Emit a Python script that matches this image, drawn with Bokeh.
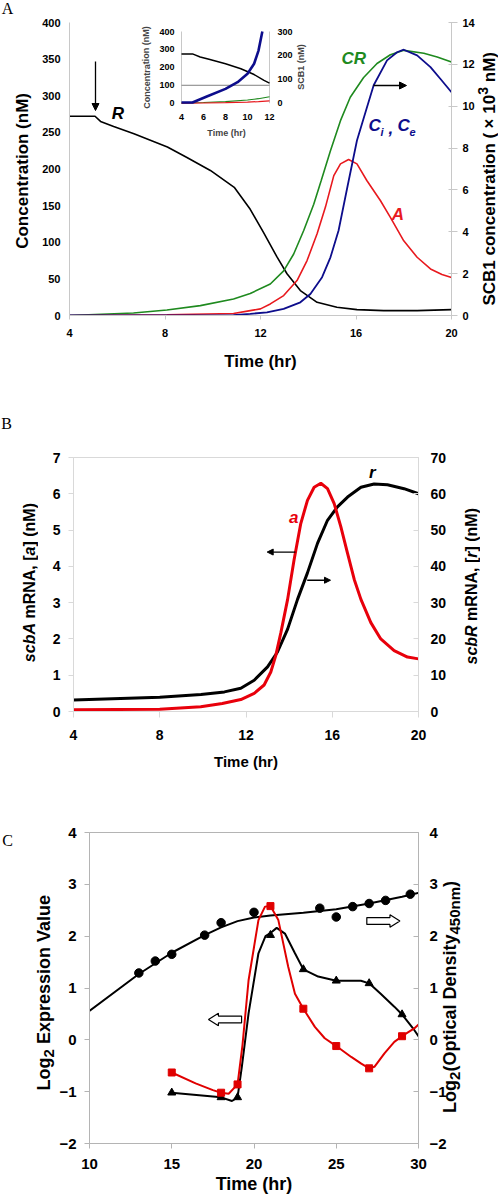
from bokeh.plotting import figure
from bokeh.models import (Range1d, LinearAxis, Label, Arrow, NormalHead,
                          FixedTicker, PolyAnnotation, Div)
from bokeh.layouts import column, row
from bokeh.embed import file_html
from bokeh.resources import INLINE
from bokeh.core.properties import value

FONT = "Liberation Sans"
SERIF = "Liberation Serif"
W = 498

# ---------------- Panel A data ----------------
A_x_ticks = [4, 8, 12, 16, 20]
A_left_ticks = [0, 50, 100, 150, 200, 250, 300, 350, 400]
A_right_ticks = [0, 2, 4, 6, 8, 10, 12, 14]

R_time = [4, 5.07, 5.3, 5.85, 6.7, 8.1, 8.9, 9.9, 10.9, 11.57, 12.13, 12.69,
          13.11, 13.67, 14.37, 15.2, 16.04, 17.16, 18.56, 20]
R_conc = [272, 272, 265, 258, 248, 230, 216, 198, 175, 145, 113, 80,
          57, 34, 18, 11.2, 8, 6.7, 6.7, 8]

CR_time = [4, 6.68, 8.08, 9.48, 10.87, 11.57, 12.41, 12.97, 13.39, 13.81, 14.23,
           14.54, 14.93, 15.35, 15.76, 16.32, 16.88, 17.44, 18.0, 18.84, 19.4, 20]
CR_conc = [0, 3.5, 7.6, 13.5, 22.6, 30, 43, 61, 84, 116, 152,
           184, 225, 266, 298, 325, 344, 356, 362, 358, 353, 346]

Afree_time = [4, 8.08, 10.87, 11.57, 12.0, 12.41, 12.97, 13.53, 13.95, 14.37, 14.72,
              15.07, 15.35, 15.69, 16.04, 16.46, 17.02, 17.44, 18.0, 18.56, 19.12,
              19.6, 20]
Afree_conc = [0, 1, 2.8, 6.7, 9, 15.8, 27.2, 47.7, 75, 111.5, 148,
              191, 207, 213, 207, 184, 157, 134, 102, 79.5, 63.6,
              56, 52]

Ci_time = [4, 10.87, 11.57, 12.27, 12.97, 13.67, 14.09, 14.58, 14.93, 15.27, 15.65,
           16.04, 16.46, 16.74, 17.3, 17.72, 18.0, 18.56, 19.12, 19.54, 20]
Ci_scb1 = [0, 0.02, 0.08, 0.15, 0.32, 0.63, 1.03, 1.83, 2.78, 4.06, 6.2,
           8.36, 9.95, 11.0, 12.19, 12.58, 12.7, 12.43, 11.87, 11.3, 10.67]

# inset of panel A
ins_x_ticks = [4, 6, 8, 10, 12]
ins_left_ticks = [0, 100, 200, 300, 400]
ins_right_ticks = [0, 100, 200, 300]
ins_ref_level = 100
ins_R_time = [4, 5.0, 5.7, 6.5, 8, 9.4, 10.6, 11.5, 12]
ins_R_conc = [275, 275, 258, 245, 220, 192, 160, 127, 112]
ins_C_time = [4, 5.0, 6.3, 8, 9.1, 10.0, 10.6, 11.0, 11.35]
ins_C_scb1 = [3, 3, 28, 60, 88, 123, 165, 220, 300]
ins_CR_time = [4, 6, 8, 10, 11, 12]
ins_CR_conc = [0, 4, 9, 18, 25, 36]
ins_A_time = [4, 6, 8, 10, 11, 12]
ins_A_conc = [0, 1, 3, 6, 9, 13]

# ---------------- Panel B data ----------------
B_x_ticks = [4, 8, 12, 16, 20]
B_left_ticks = [0, 1, 2, 3, 4, 5, 6, 7]
B_right_ticks = [0, 10, 20, 30, 40, 50, 60, 70]
a_time = [4, 8, 9.9, 10.9, 11.76, 12.38, 12.84, 13.15, 13.38, 13.62, 13.93, 14.23,
          14.54, 14.85, 15.16, 15.47, 15.78, 16.09, 16.4, 16.71, 17.02, 17.33,
          17.79, 18.25, 18.87, 19.49, 20]
a_mrna = [0.05, 0.06, 0.13, 0.22, 0.33, 0.5, 0.73, 1.09, 1.54, 2.18, 3.09, 4.18,
          5.18, 5.82, 6.18, 6.29, 6.14, 5.73, 5.09, 4.36, 3.64, 3.09,
          2.45, 2.0, 1.68, 1.5, 1.45]
r_time = [4, 8, 9.91, 11.0, 11.76, 12.38, 13.0, 13.46, 13.93, 14.39, 14.85, 15.32,
          15.78, 16.24, 16.71, 17.33, 17.94, 18.56, 19.33, 20]
r_mrna = [3.2, 3.9, 4.7, 5.4, 6.4, 8.6, 12.3, 16.4, 22.7, 30.9, 38.2, 46.4,
          52.7, 56.4, 59.1, 61.8, 62.7, 62.5, 61.4, 60]

# ---------------- Panel C data ----------------
C_x_ticks = [10, 15, 20, 25, 30]
C_y_ticks = [-2, -1, 0, 1, 2, 3, 4]
od_time = [13, 14, 15, 17, 18, 20, 24, 25, 26, 27, 28, 29.5]
od_log2 = [1.29, 1.52, 1.65, 2.02, 2.26, 2.46, 2.54, 2.37, 2.57, 2.63, 2.69, 2.81]
od_fit_time = [9.8, 13, 15, 17, 18, 19, 20, 21, 23, 25, 27, 29, 30.3]
od_fit_log2 = [0.51, 1.27, 1.68, 2.02, 2.17, 2.29, 2.36, 2.40, 2.45, 2.52, 2.63, 2.76, 2.86]

sq_time = [15, 18, 19, 21, 23, 25, 27, 29]
sq_expr = [-0.63, -1.02, -0.86, 2.58, 0.60, -0.12, -0.55, 0.07]
sq_curve_time = [15, 16.45, 17.5, 18, 18.46, 19, 19.3, 19.67, 20.27, 20.67, 21, 21.48,
                 22.08, 22.49, 23, 23.7, 24.3, 25, 25.91, 26.52, 27, 27.32, 27.93,
                 28.53, 29, 29.74, 30.3]
sq_curve_expr = [-0.63, -0.84, -0.97, -1.02, -1.04, -0.86, -0.1, 1.15, 2.31, 2.57, 2.58,
                 2.31, 1.41, 0.89, 0.60, 0.25, 0.03, -0.12, -0.33, -0.46, -0.55, -0.52,
                 -0.26, -0.04, 0.07, 0.22, 0.38]

tri_time = [15, 18, 19, 21, 23, 25, 27, 29]
tri_expr = [-1.02, -1.11, -1.11, 2.02, 1.36, 1.14, 1.09, 0.49]
tri_curve_time = [15, 18, 18.66, 19, 19.26, 19.67, 20.27, 20.7, 21, 21.38, 21.88, 22.49,
                  23, 23.9, 25, 26.5, 27, 27.7, 28.53, 29, 29.74, 30.24]
tri_curve_expr = [-1.02, -1.11, -1.18, -1.11, -0.52, 0.51, 1.67, 2.0, 2.06, 2.16, 2.05,
                  1.67, 1.36, 1.22, 1.14, 1.14, 1.09, 0.89, 0.64, 0.49, 0.19, -0.04]

# ---------------- colours ----------------
GREEN = "#1f8a1f"
NAVY = "#0d0d8c"
RED_A = "#e8191e"
RED_B = "#e8000b"
RED_C = "#e00000"
AXIS_GREY = "#c8c8c8"


def mapper(fl, fr, ft, fb, x0, x1, y0, y1):
    """page pixel -> data coordinate for a panel (annotation placement)"""
    def dx(px):
        return x0 + (px - fl) / (fr - fl) * (x1 - x0)

    def dy(py):
        return y0 + (fb - py) / (fb - ft) * (y1 - y0)
    return dx, dy


def style_axis(ax, ticks, tick_size, title_size, line_color, tin, tout,
               lstand, tstand):
    ax.ticker = FixedTicker(ticks=ticks)
    ax.axis_line_color = line_color
    ax.major_tick_line_color = line_color
    ax.major_tick_in = tin
    ax.major_tick_out = tout
    ax.minor_tick_line_color = None
    ax.major_label_text_font = FONT
    ax.major_label_text_font_style = "bold"
    ax.major_label_text_font_size = f"{tick_size}px"
    ax.major_label_text_color = "black"
    ax.major_label_standoff = lstand
    ax.axis_label_text_font = FONT
    ax.axis_label_text_font_style = "bold"
    ax.axis_label_text_font_size = f"{title_size}px"
    ax.axis_label_text_color = "black"
    ax.axis_label_standoff = tstand


def mk_label(p, x, y, text, size, color="black", style="bold italic",
             font=FONT, align="center"):
    p.add_layout(Label(x=x, y=y, text=text, text_font=font,
                       text_font_size=f"{size}px", text_font_style=style,
                       text_color=color, text_align=align,
                       text_baseline="middle"))


def side_div(width, height, letter=None, letter_pos=None, title=None,
             title_pos=None, title_size=17):
    """A narrow column beside a figure holding the panel letter and a
    vertical (bottom-to-top) axis title."""
    parts = [f'<div style="position:relative;width:{width}px;height:{height}px;">']
    if letter is not None:
        lx, ly = letter_pos
        parts.append(
            f'<div style="position:absolute;left:{lx}px;top:{ly}px;'
            f'transform:translate(-50%,-50%);font-family:\'{SERIF}\';'
            f'font-size:16px;line-height:1;white-space:nowrap;color:black">{letter}</div>')
    if title is not None:
        cx, cy = title_pos
        k = min(cy, height - cy)
        lh = 20
        parts.append(
            f'<div style="position:absolute;left:{cx - lh / 2}px;top:{cy - k}px;'
            f'width:{lh}px;height:{2 * k}px;display:flex;align-items:center;'
            f'justify-content:center;">'
            f'<div style="writing-mode:vertical-rl;transform:rotate(180deg);'
            f'white-space:nowrap;font-family:\'{FONT}\';font-weight:bold;'
            f'font-size:{title_size}px;line-height:{lh}px;color:black">{title}</div></div>')
    parts.append('</div>')
    return Div(text="".join(parts), width=width, height=height, margin=0,
               styles={"overflow": "visible"})


# ======================= PANEL A =======================
HA = 392
A_LW, A_RW = 38, 20
A_fl, A_fr, A_ft, A_fb = 69, 451, 22, 315          # page pixels of the frame
pA = figure(width=W - A_LW - A_RW, height=HA, x_range=Range1d(4, 20),
            y_range=Range1d(0, 400), output_backend="svg", toolbar_location=None,
            min_border_left=A_fl - A_LW, min_border_right=W - A_RW - A_fr,
            min_border_top=A_ft, min_border_bottom=HA - A_fb)
pA.outline_line_color = None
pA.xgrid.visible = False
pA.ygrid.visible = False

# inset coordinate systems (page px positions of the inset frame)
I_l, I_r, I_t, I_b = 181, 269, 31, 102.7
sx = (ins_x_ticks[-1] - ins_x_ticks[0]) / (I_r - I_l)
ix0 = ins_x_ticks[0] - (I_l - A_fl) * sx
ix1 = ins_x_ticks[-1] + (A_fr - I_r) * sx
syl = (ins_left_ticks[-1] - ins_left_ticks[0]) / (I_b - I_t)
iy0 = ins_left_ticks[0] - (A_fb - I_b) * syl
iy1 = ins_left_ticks[-1] + (I_t - A_ft) * syl
syr = (ins_right_ticks[-1] - ins_right_ticks[0]) / (I_b - I_t)
iyr0 = ins_right_ticks[0] - (A_fb - I_b) * syr
iyr1 = ins_right_ticks[-1] + (I_t - A_ft) * syr

pA.extra_y_ranges = {"r": Range1d(0, 14), "iy": Range1d(iy0, iy1),
                     "iyr": Range1d(iyr0, iyr1)}
pA.extra_x_ranges = {"ix": Range1d(ix0, ix1)}

style_axis(pA.xaxis[0], A_x_ticks, 11, 17, AXIS_GREY, 0, 4, 9, 12)
pA.xaxis[0].axis_label = "Time (hr)"
style_axis(pA.yaxis[0], A_left_ticks, 11, 17, AXIS_GREY, 0, 0, 9, 0)
pA.yaxis[0].major_tick_line_color = None
axr = LinearAxis(y_range_name="r")
style_axis(axr, A_right_ticks, 11, 17, AXIS_GREY, 3, 6, 5, 0)
pA.add_layout(axr, "right")

pA.line(R_time, R_conc, color="black", line_width=1.6)
pA.line(CR_time, CR_conc, color=GREEN, line_width=1.6)
pA.line(Afree_time, Afree_conc, color=RED_A, line_width=1.6)
pA.line(Ci_time, Ci_scb1, color=NAVY, line_width=1.8, y_range_name="r")

# ---- inset ----
x_lo, x_hi = ins_x_ticks[0], ins_x_ticks[-1]
y_lo, y_hi = ins_left_ticks[0], ins_left_ticks[-1]
pA.segment(x0=[x_lo, x_hi], y0=[y_lo, y_lo], x1=[x_lo, x_hi], y1=[y_hi, y_hi],
           color=AXIS_GREY, line_width=1, x_range_name="ix", y_range_name="iy")
pA.segment(x0=[x_lo], y0=[ins_ref_level], x1=[x_hi], y1=[ins_ref_level],
           color="#808080", line_width=1, x_range_name="ix", y_range_name="iy")
pA.line(ins_CR_time, ins_CR_conc, color=GREEN, line_width=1.2,
        x_range_name="ix", y_range_name="iy")
pA.line(ins_A_time, ins_A_conc, color=RED_A, line_width=1.2,
        x_range_name="ix", y_range_name="iy")
pA.line(ins_R_time, ins_R_conc, color="black", line_width=1.5,
        x_range_name="ix", y_range_name="iy")
pA.line(ins_C_time, ins_C_scb1, color=NAVY, line_width=2.6,
        x_range_name="ix", y_range_name="iyr")

tick_font = dict(text_font=value(FONT), text_font_size="9px",
                 text_font_style="bold", text_color="black",
                 text_baseline="middle")
pA.text(x=[x_lo] * len(ins_left_ticks), y=ins_left_ticks,
        text=[str(t) for t in ins_left_ticks], text_align="right", x_offset=-7,
        x_range_name="ix", y_range_name="iy", **tick_font)
pA.text(x=[x_hi] * len(ins_right_ticks), y=ins_right_ticks,
        text=[str(t) for t in ins_right_ticks], text_align="left", x_offset=8,
        x_range_name="ix", y_range_name="iyr", **tick_font)
pA.text(x=ins_x_ticks, y=[y_lo - 14 * syl] * len(ins_x_ticks),
        text=[str(t) for t in ins_x_ticks], text_align="center",
        x_range_name="ix", y_range_name="iy", **tick_font)
dxA, dyA = mapper(A_fl, A_fr, A_ft, A_fb, 4, 20, 0, 400)
pA.add_layout(Label(x=dxA(146), y=dyA(67), text="Concentration (nM)", angle=1.5708,
                    text_font=FONT, text_font_size="9px", text_font_style="bold",
                    text_align="center", text_baseline="middle"))
pA.add_layout(Label(x=dxA(300.7), y=dyA(66.5), text="SCB1 (nM)", angle=1.5708,
                    text_font=FONT, text_font_size="9px", text_font_style="bold",
                    text_align="center", text_baseline="middle"))
pA.add_layout(Label(x=dxA(226), y=dyA(132.5), text="Time (hr)",
                    text_font=FONT, text_font_size="9px", text_font_style="bold",
                    text_align="center", text_baseline="middle"))

# ---- panel A annotations ----
mk_label(pA, dxA(117.5), dyA(113), "R", 17)
mk_label(pA, dxA(353.3), dyA(57.5), "CR", 17, color=GREEN)
mk_label(pA, dxA(397.5), dyA(214), "A", 17, color=RED_A)
mk_label(pA, dxA(368), dyA(125), "C", 17, color=NAVY, align="left")
mk_label(pA, dxA(380), dyA(131), "i", 11, color=NAVY, align="left")
mk_label(pA, dxA(388), dyA(127), ",", 17, color=NAVY, align="left")
mk_label(pA, dxA(397), dyA(125), "C", 17, color=NAVY, align="left")
mk_label(pA, dxA(409), dyA(131), "e", 11, color=NAVY, align="left")
pA.add_layout(Arrow(end=NormalHead(size=7, fill_color="black", line_color="black"),
                    x_start=dxA(95), y_start=dyA(61), x_end=dxA(95), y_end=dyA(110),
                    line_color="black", line_width=1.3))
pA.add_layout(Arrow(end=NormalHead(size=7, fill_color="black", line_color="black"),
                    x_start=dxA(373), y_start=dyA(85), x_end=dxA(406), y_end=dyA(85),
                    line_color="black", line_width=1.3))

leftA = side_div(A_LW, HA, "A", (7.5, 8.5), "Concentration (nM)", (23, 170.8), 17)
rightA = side_div(A_RW, HA, title="SCB1 concentration (\u00d710<sup>3</sup> nM)",
                  title_pos=(486 - (W - A_RW), 178.5), title_size=17)

# ======================= PANEL B =======================
HB = 380
TB = HA                       # page y of figure top
B_LW, B_RW = 44, 38
B_fl, B_fr, B_ft, B_fb = 73, 418, TB + 65, TB + 321
pB = figure(width=W - B_LW - B_RW, height=HB, x_range=Range1d(4, 20),
            y_range=Range1d(0, 7), output_backend="svg", toolbar_location=None,
            min_border_left=B_fl - B_LW, min_border_right=W - B_RW - B_fr,
            min_border_top=B_ft - TB, min_border_bottom=TB + HB - B_fb)
pB.outline_line_color = "#d9d9d9"
pB.xgrid.visible = False
pB.ygrid.visible = False
pB.extra_y_ranges = {"r": Range1d(0, 70)}
style_axis(pB.xaxis[0], B_x_ticks, 14, 15, "#d9d9d9", 0, 6, 12, 10)
pB.xaxis[0].axis_label = "Time (hr)"
style_axis(pB.yaxis[0], B_left_ticks, 14, 16, "#d9d9d9", 0, 5, 8, 0)
axrB = LinearAxis(y_range_name="r")
style_axis(axrB, B_right_ticks, 14, 16, "#d9d9d9", 5, 0, 12, 0)
pB.add_layout(axrB, "right")

pB.line(r_time, r_mrna, color="black", line_width=3, y_range_name="r")
pB.line(a_time, a_mrna, color=RED_B, line_width=3)

dxB, dyB = mapper(B_fl, B_fr, B_ft, B_fb, 4, 20, 0, 7)
mk_label(pB, dxB(293.3), dyB(517.5), "a", 17, color=RED_B)
mk_label(pB, dxB(371.7), dyB(472.5), "r", 17)
pB.add_layout(Arrow(end=NormalHead(size=6, fill_color="black", line_color="black"),
                    x_start=dxB(295), y_start=dyB(552.3), x_end=dxB(266.7), y_end=dyB(552.3),
                    line_color="black", line_width=1.3))
pB.add_layout(Arrow(end=NormalHead(size=6, fill_color="black", line_color="black"),
                    x_start=dxB(306.7), y_start=dyB(580.7), x_end=dxB(330), y_end=dyB(580.7),
                    line_color="black", line_width=1.3))

leftB = side_div(B_LW, HB, "B", (6.5, 423.5 - TB),
                 "<i>scbA</i> mRNA, [<i>a</i>] (nM)", (30, 582.5 - TB), 16)
rightB = side_div(B_RW, HB, title="<i>scbR</i> mRNA, [<i>r</i>] (nM)",
                  title_pos=(471.7 - (W - B_RW), 586.7 - TB), title_size=16)

# ======================= PANEL C =======================
HC = 426
TC = HA + HB
C_LW, C_RW = 56, 47
C_fl, C_fr, C_ft, C_fb = 87, 418, TC + 60, TC + 371
pC = figure(width=W - C_LW - C_RW, height=HC, x_range=Range1d(10, 30),
            y_range=Range1d(-2, 4), output_backend="svg", toolbar_location=None,
            min_border_left=C_fl - C_LW, min_border_right=W - C_RW - C_fr,
            min_border_top=C_ft - TC, min_border_bottom=TC + HC - C_fb)
pC.outline_line_color = "#b4b4b4"
pC.xgrid.visible = False
pC.ygrid.visible = False
pC.extra_y_ranges = {"r": Range1d(-2, 4)}
style_axis(pC.xaxis[0], C_x_ticks, 15, 18, "#b4b4b4", 0, 5, 10, 2)
pC.xaxis[0].axis_label = "Time (hr)"
style_axis(pC.yaxis[0], C_y_ticks, 15, 18, "#b4b4b4", 0, 5, 8, 0)
axrC = LinearAxis(y_range_name="r")
style_axis(axrC, C_y_ticks, 15, 18, "#b4b4b4", 5, 0, 11, 0)
pC.add_layout(axrC, "right")

pC.line(od_fit_time, od_fit_log2, color="black", line_width=2, y_range_name="r")
pC.scatter(od_time, od_log2, marker="circle", size=8.5, color="black", y_range_name="r")
pC.line(tri_curve_time, tri_curve_expr, color="black", line_width=2)
pC.scatter(tri_time, tri_expr, marker="triangle", size=8, color="black")
pC.line(sq_curve_time, sq_curve_expr, color=RED_C, line_width=2)
pC.scatter(sq_time, sq_expr, marker="square", size=7, color=RED_C)

dxC, dyC = mapper(C_fl, C_fr, C_ft, C_fb, 10, 30, -2, 4)


def block_arrow(p, dx, dy, tip_x, cy, length, direction):
    head_len, head_h, shaft_h = 10, 6.2, 3.4
    d = 1 if direction == "right" else -1
    base = tip_x - d * head_len
    tail = tip_x - d * length
    pts = [(tip_x, cy), (base, cy - head_h), (base, cy - shaft_h),
           (tail, cy - shaft_h), (tail, cy + shaft_h), (base, cy + shaft_h),
           (base, cy + head_h)]
    p.add_layout(PolyAnnotation(xs=[dx(a) for a, b in pts], ys=[dy(b) for a, b in pts],
                                fill_color="white", fill_alpha=1.0,
                                line_color="black", line_alpha=1.0, line_width=1.2))


block_arrow(pC, dxC, dyC, 206.7, 1019, 33.3, "left")
block_arrow(pC, dxC, dyC, 399.3, 920.5, 33.3, "right")

leftC = side_div(C_LW, HC, "C", (7.5, 841 - TC),
                 "Log<sub>2</sub> Expression Value", (46.7, 992.3 - TC), 18)
rightC = side_div(C_RW, HC,
                  title="Log<sub>2</sub>(Optical Density<sub>450nm</sub>)",
                  title_pos=(452 - (W - C_RW), 996.7 - TC), title_size=18)

layout = column(row(leftA, pA, rightA),
                row(leftB, pB, rightB),
                row(leftC, pC, rightC))
open("out.html", "w").write(file_html(layout, INLINE))
